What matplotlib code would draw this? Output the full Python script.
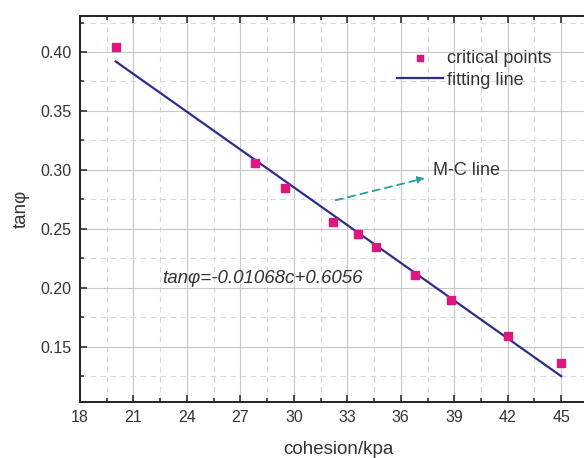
import numpy as np
import matplotlib
matplotlib.use('Agg')
import matplotlib.pyplot as plt
from matplotlib.ticker import MultipleLocator

# critical points
cohesion = [20.0, 27.8, 29.5, 32.2, 33.6, 34.6, 36.8, 38.8, 42.0, 45.0]
tan_phi = [0.404, 0.306, 0.285, 0.256, 0.246, 0.235, 0.211, 0.190, 0.159, 0.136]

# fitted line tan(phi) = k*c + b
k = -0.01068
b = 0.6056
fit_range = [20, 45]

x_ticks = [18, 21, 24, 27, 30, 33, 36, 39, 42, 45]
y_ticks = [0.15, 0.20, 0.25, 0.30, 0.35, 0.40]

plt.rcParams['font.family'] = ['Liberation Sans', 'DejaVu Sans']

fig = plt.figure(figsize=(5.84, 4.58), dpi=100)
ax = fig.add_axes([0.137, 0.122, 0.885, 0.843])

fit_x = np.array(fit_range)
fit_y = k * fit_x + b
ax.plot(fit_x, fit_y, color='#2e2e8a', lw=1.6, label='fitting line', zorder=3)
ax.scatter(cohesion, tan_phi, marker='s', s=40, color='#e0157d', label='critical points', zorder=4)

# annotation arrow for the M-C line
ax.annotate('', xy=(37.5, 0.2935), xytext=(32.2, 0.2737),
            arrowprops=dict(arrowstyle='-|>', color='#2a9d9d', lw=1.3,
                            linestyle=(0, (4, 3)), mutation_scale=10))
ax.text(37.8, 0.2995, 'M-C line', fontsize=13, color='#333333', va='center', ha='left')
ax.text(22.6, 0.2076, 'tanφ=-0.01068c+0.6056', fontstyle='italic',
        fontsize=13.5, color='#333333', va='center', ha='left')

ax.set_xlim(18, 47)
ax.set_ylim(0.103, 0.4305)
ax.set_xticks(x_ticks)
ax.set_yticks(y_ticks)
ax.set_yticklabels(['%.2f' % v for v in y_ticks])
ax.xaxis.set_minor_locator(MultipleLocator(1.5))
ax.yaxis.set_minor_locator(MultipleLocator(0.025))

ax.grid(which='major', color='#c8c8c8', lw=0.8, linestyle='-')
ax.grid(which='minor', color='#d8d8d8', lw=0.8, linestyle=(0, (5, 4)))
ax.set_axisbelow(True)

ax.tick_params(which='both', direction='in', top=True, right=False, labelsize=11.5,
               colors='#333333', width=1.2)
ax.tick_params(which='major', length=5, pad=6)
ax.tick_params(which='minor', length=3)
for s in ['left', 'bottom', 'top']:
    ax.spines[s].set_linewidth(1.4)
    ax.spines[s].set_color('#222222')
ax.spines['right'].set_visible(False)

ax.set_xlabel('cohesion/kpa', fontsize=13.5, color='#333333', labelpad=11)
ax.set_ylabel('tanφ', fontsize=13.5, color='#333333', labelpad=8)

leg = ax.legend(handles=[ax.collections[0], ax.lines[0]], loc='upper left',
                bbox_to_anchor=(0.582, 0.954), frameon=False, fontsize=13,
                handlelength=2.55, handletextpad=0.2, labelspacing=0.26,
                markerscale=0.75)
for t in leg.get_texts():
    t.set_color('#333333')

fig.savefig('out.png', dpi=100)
